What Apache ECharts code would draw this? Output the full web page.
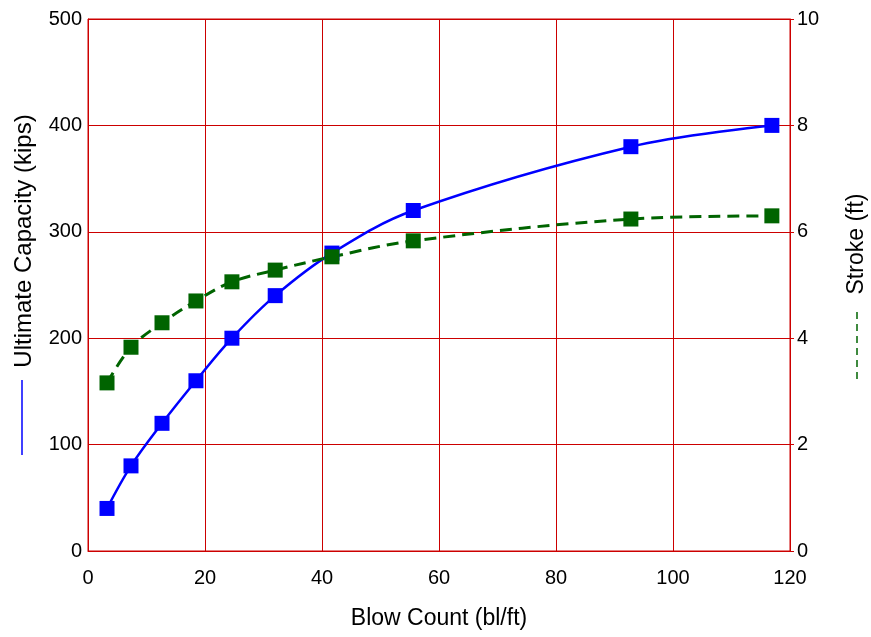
<!DOCTYPE html>
<html>
<head>
<meta charset="utf-8">
<script src="https://cdn.jsdelivr.net/npm/echarts@6/dist/echarts.min.js"></script>
<style>
  html, body { margin: 0; padding: 0; background: #fff; }
  #chart { width: 871px; height: 637px; }
</style>
</head>
<body>
<div id="chart"></div>
<script>
const blowCount = [3.25, 7.35, 12.65, 18.45, 24.6, 32.0, 41.7, 55.6, 92.8, 116.9];
const capacity = [40, 80, 120, 160, 200, 240, 280, 320, 380, 400];
const stroke = [3.16, 3.83, 4.29, 4.70, 5.06, 5.28, 5.53, 5.83, 6.24, 6.30];

const fontFamily = "'Liberation Sans', Arial, sans-serif";
const gridColor = "#cc0000";
const blue = "#0000ff";
const green = "#006400";

const chart = echarts.init(document.getElementById("chart"));

const capacityData = blowCount.map((x, i) => [x, capacity[i]]);
const strokeData = blowCount.map((x, i) => [x, stroke[i]]);

chart.setOption({
  animation: false,
  backgroundColor: "#fff",
  textStyle: { fontFamily: fontFamily },
  grid: {
    left: 88, right: 81, top: 19, bottom: 86,
    show: true, borderColor: gridColor, borderWidth: 1
  },
  xAxis: {
    type: "value",
    min: 0, max: 120, interval: 20,
    name: "Blow Count (bl/ft)",
    nameLocation: "middle",
    nameGap: 56,
    nameTextStyle: { fontSize: 23, color: "#000", fontFamily: fontFamily },
    axisLine: { show: true, lineStyle: { color: gridColor } },
    axisTick: { show: false },
    axisLabel: { fontSize: 20, color: "#000", margin: 17, fontFamily: fontFamily },
    splitLine: { show: true, lineStyle: { color: gridColor, width: 1 } }
  },
  yAxis: [
    {
      type: "value",
      min: 0, max: 500, interval: 100,
      axisLine: { show: true, lineStyle: { color: gridColor } },
      axisTick: { show: false },
      axisLabel: { fontSize: 20, color: "#000", margin: 6, fontFamily: fontFamily },
      splitLine: { show: true, lineStyle: { color: gridColor, width: 1 } }
    },
    {
      type: "value",
      min: 0, max: 10, interval: 2,
      position: "right",
      axisLine: { show: true, lineStyle: { color: gridColor } },
      axisTick: { show: true, length: 4, lineStyle: { color: gridColor } },
      axisLabel: { fontSize: 20, color: "#000", margin: 7, fontFamily: fontFamily },
      splitLine: { show: false }
    }
  ],
  series: [
    {
      name: "Ultimate Capacity (kips)",
      type: "line",
      yAxisIndex: 0,
      data: capacityData,
      smooth: 0.35,
      symbol: "rect",
      symbolSize: 15,
      itemStyle: { color: blue },
      lineStyle: { color: blue, width: 2.5 }
    },
    {
      name: "Stroke (ft)",
      type: "line",
      yAxisIndex: 1,
      data: strokeData,
      smooth: 0.35,
      symbol: "rect",
      symbolSize: 15,
      itemStyle: { color: green },
      lineStyle: { color: green, width: 3, type: [12, 7] }
    }
  ],
  graphic: [
    {
      type: "text",
      x: 24, y: 241,
      rotation: Math.PI / 2,
      style: {
        text: "Ultimate Capacity (kips)",
        font: "24px " + fontFamily,
        fill: "#000",
        textAlign: "center",
        textVerticalAlign: "middle"
      }
    },
    {
      type: "line",
      shape: { x1: 22, y1: 380, x2: 22, y2: 455 },
      style: { stroke: blue, lineWidth: 1.5 }
    },
    {
      type: "text",
      x: 857, y: 244,
      rotation: Math.PI / 2,
      style: {
        text: "Stroke (ft)",
        font: "23px " + fontFamily,
        fill: "#000",
        textAlign: "center",
        textVerticalAlign: "middle"
      }
    },
    {
      type: "line",
      shape: { x1: 857, y1: 312, x2: 857, y2: 380 },
      style: { stroke: green, lineWidth: 1.5, lineDash: [7, 5] }
    }
  ]
});
</script>
</body>
</html>
